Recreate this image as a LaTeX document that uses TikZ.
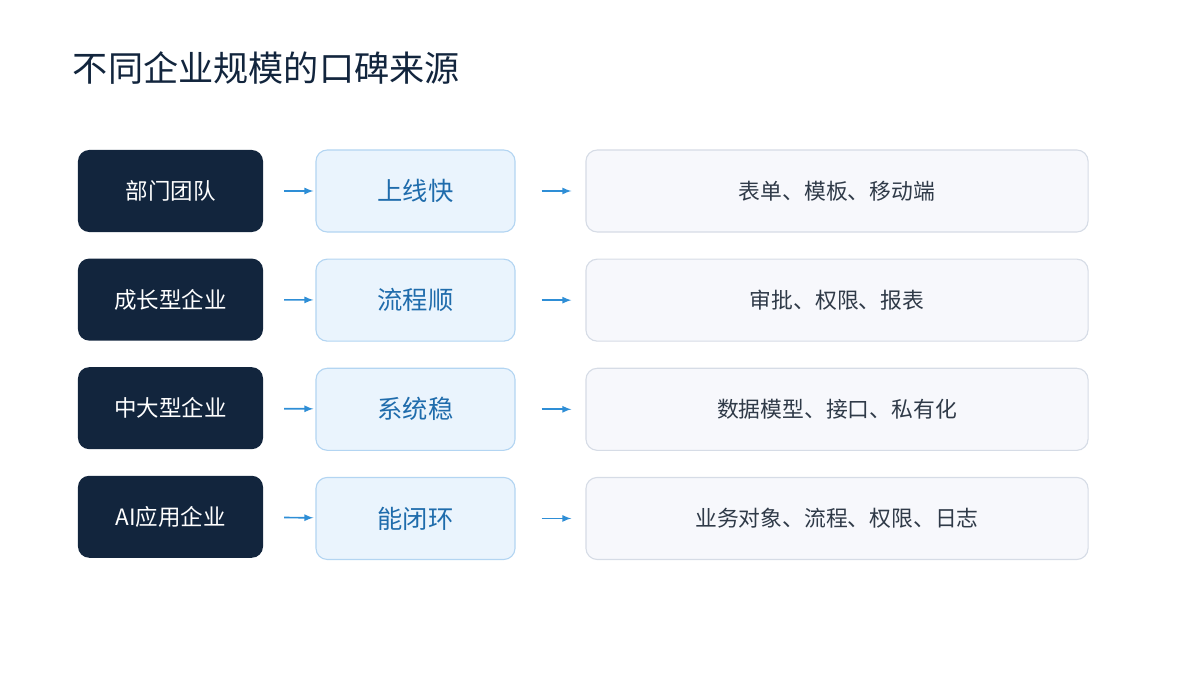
\documentclass[tikz,border=0pt]{standalone}
\usepackage{fontspec}
\setmainfont{Noto Sans CJK SC}
\usetikzlibrary{positioning}
\definecolor{navy}{HTML}{12253D}
\definecolor{skyfill}{HTML}{EAF4FD}
\definecolor{skyline}{HTML}{B3D5F2}
\definecolor{skytext}{HTML}{1F6CAC}
\definecolor{greyfill}{HTML}{F7F8FC}
\definecolor{greyline}{HTML}{D6DCE6}
\definecolor{greytext}{HTML}{2F3A48}
\definecolor{arrowblue}{HTML}{2E8ED6}
\begin{document}
\begin{tikzpicture}[x=0.025cm,y=-0.025cm,
   size/.style={rectangle,rounded corners=8pt,minimum width=4.625cm,minimum height=2.05cm,
      fill=navy,text=white,font=\fontsize{16}{18}\selectfont},
   gain/.style={rectangle,rounded corners=8pt,minimum width=4.975cm,minimum height=2.05cm,
      draw=skyline,line width=0.8pt,fill=skyfill,text=skytext,font=\fontsize{18}{20}\selectfont},
   source/.style={rectangle,rounded corners=8pt,minimum width=12.55cm,minimum height=2.05cm,
      draw=greyline,line width=0.8pt,fill=greyfill,text=greytext,font=\fontsize{15.5}{18}\selectfont},
   flow/.style={->,>=latex,arrowblue,line width=1.2pt}]
   \useasboundingbox (0,0) rectangle (1200,675);
   \node[anchor=west,font=\fontsize{25}{28}\selectfont,text=navy] (title) at (68,68) {不同企业规模的口碑来源};
   \node[size] (s_1) at (170.5,191) {部门团队};
   \node[size] (s_2) [below=0.65cm of s_1] {成长型企业};
   \node[size] (s_3) [below=0.65cm of s_2] {中大型企业};
   \node[size] (s_4) [below=0.65cm of s_3] {AI应用企业};
   \node[gain] (g_1) at (415.5,191) {上线快};
   \node[gain] (g_2) [below=0.65cm of g_1] {流程顺};
   \node[gain] (g_3) [below=0.65cm of g_2] {系统稳};
   \node[gain] (g_4) [below=0.65cm of g_3] {能闭环};
   \node[source] (r_1) at (837,191) {表单、模板、移动端};
   \node[source] (r_2) [below=0.65cm of r_1] {审批、权限、报表};
   \node[source] (r_3) [below=0.65cm of r_2] {数据模型、接口、私有化};
   \node[source] (r_4) [below=0.65cm of r_3] {业务对象、流程、权限、日志};
   \foreach \i in {1,...,4} {
      \draw[flow,shorten <=0.52cm,shorten >=0.05cm] (s_\i) -- (g_\i);
      \draw[flow,shorten <=0.65cm,shorten >=0.35cm] (g_\i) -- (r_\i);
   }
\end{tikzpicture}
\end{document}
